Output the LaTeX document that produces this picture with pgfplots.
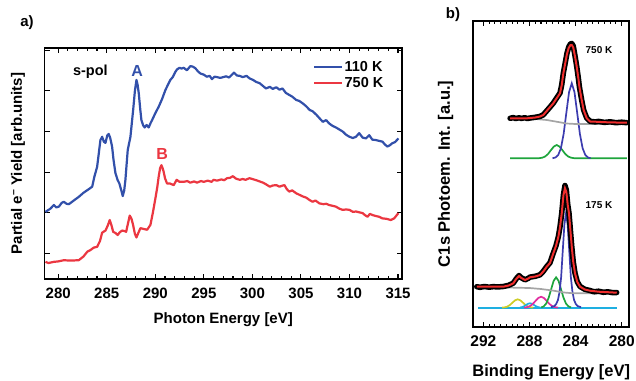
\documentclass[border=0pt]{standalone}
\usepackage{pgfplots}
\pgfplotsset{compat=1.18}
\usepackage{fontspec}
\setmainfont{Liberation Sans}
\setsansfont{Liberation Sans}
\definecolor{cblue}{RGB}{50,80,170}
\definecolor{cred}{RGB}{235,55,65}
\definecolor{bblue}{RGB}{60,60,175}
\definecolor{bgreen}{RGB}{30,165,60}
\definecolor{bcyan}{RGB}{30,175,225}
\definecolor{bmag}{RGB}{225,45,160}
\definecolor{byel}{RGB}{205,205,40}
\definecolor{bgray}{RGB}{165,165,165}
\definecolor{bred}{RGB}{240,45,45}
\newcommand{\fs}[1]{\fontsize{#1}{#1}\selectfont\bfseries}
\pgfplotsset{
  frame/.style={
    scale only axis,
    anchor=south west,
    axis line style={line width=1.7pt},
    tick style={line width=1.1pt,black},
    major tick length=5.5pt,
    minor tick length=3pt,
    tick align=inside,
    /pgf/number format/assume math mode=true,
    /pgf/number format/1000 sep={},
  }
}
\begin{document}
\begin{tikzpicture}
\path[use as bounding box] (0,0) rectangle (636pt,380pt);
\node[font=\fs{15}] at (27pt,357pt) {a)};
\node[font=\fs{15}] at (453pt,365pt) {b)};
% ---------------- panel a
\begin{axis}[frame,
  at={(44.5pt,101pt)}, width=357.5pt, height=231pt,
  xmin=278.59, xmax=315.41, ymin=0.367, ymax=6.057,
  xtick={280,285,...,315}, minor x tick num=4,
  ytick={1,2,3,4,5,6}, yticklabels={},
  xticklabel style={font=\fs{15}, yshift=-5pt},
  xlabel={Photon Energy [eV]},
  xlabel style={at={(axis description cs:0.5,-0.177)}, anchor=center, font=\fs{15}},
  ylabel={Partial e\textsuperscript{--} Yield [arb.units]},
  ylabel style={at={(axis description cs:-0.074,0.5)}, anchor=center, font=\fs{15}},
  legend style={at={(axis description cs:0.743,0.883)}, anchor=west, draw=none, fill=none,
    font=\fs{14.5}, row sep=2pt, nodes={inner sep=1pt}},
  legend cell align=left,
  legend image code/.code={\draw[#1,line width=2.3pt] (0pt,0pt) -- (28pt,0pt);},
]
\addplot[cblue, line width=2.2pt, line join=round] coordinates {
(278.69,2.02)(279.2,2.10)(279.55,2.19)(279.8,2.13)(280.07,2.15)(280.35,2.24)(280.58,2.27)(280.85,2.22)
(281.1,2.21)(281.6,2.30)(282.12,2.39)(282.6,2.49)(283.15,2.58)(283.5,2.64)(283.73,2.89)(284.01,3.13)
(284.35,3.79)(284.53,3.87)(284.7,3.75)(284.87,3.72)(285.05,3.90)(285.2,3.94)(285.35,3.85)(285.55,3.63)
(285.7,3.30)(285.9,2.97)(286.13,2.80)(286.3,2.72)(286.5,2.55)(286.65,2.41)(286.8,2.55)(286.92,2.80)
(287.16,3.54)(287.44,3.87)(287.72,4.53)(287.9,5.00)(288.06,5.27)(288.18,5.15)(288.3,4.94)(288.45,4.55)
(288.57,4.28)(288.75,4.15)(288.91,4.10)(289.1,4.16)(289.32,4.10)(289.5,4.20)(289.67,4.28)(290.0,4.45)
(290.35,4.61)(290.7,4.80)(291.04,5.02)(291.3,5.15)(291.55,5.27)(291.8,5.34)(292.07,5.47)(292.24,5.53)
(292.5,5.57)(292.7,5.55)(292.92,5.57)(293.26,5.51)(293.61,5.61)(293.85,5.60)(294.12,5.56)(294.4,5.48)
(294.64,5.43)(295.0,5.40)(295.3,5.35)(295.6,5.37)(295.84,5.29)(296.1,5.35)(296.36,5.34)(296.7,5.32)
(297.0,5.34)(297.3,5.36)(297.6,5.33)(297.9,5.40)(298.1,5.45)(298.4,5.38)(298.7,5.37)(299.0,5.34)
(299.4,5.37)(299.7,5.31)(300.07,5.27)(300.4,5.22)(300.75,5.19)(301.1,5.12)(301.4,5.06)(301.8,5.10)
(302.1,5.05)(302.46,5.09)(302.8,5.03)(303.1,5.06)(303.45,4.95)(303.8,4.90)(304.1,4.86)(304.5,4.78)
(304.85,4.75)(305.2,4.69)(305.55,4.62)(305.9,4.53)(306.2,4.50)(306.6,4.41)(306.9,4.33)(307.25,4.24)
(307.6,4.28)(307.9,4.20)(308.25,4.14)(308.6,4.10)(308.95,4.05)(309.3,4.00)(309.65,3.92)(310.0,3.87)
(310.35,3.84)(310.67,3.87)(311.0,3.96)(311.35,3.85)(311.7,3.83)(312.03,3.91)(312.35,3.80)(312.7,3.79)
(313.05,3.77)(313.4,3.75)(313.65,3.68)(313.9,3.63)(314.15,3.66)(314.4,3.71)(314.7,3.74)(315.04,3.83)
};
\addlegendentry{110 K}
\addplot[cred, line width=2.2pt, line join=round] coordinates {
(278.69,0.79)(279.0,0.76)(279.56,0.79)(280.0,0.80)(280.58,0.83)(281.26,0.82)(282.12,0.83)(282.6,0.92)
(283.0,1.04)(283.32,1.08)(283.66,1.14)(284.01,1.16)(284.3,1.30)(284.53,1.51)(284.87,1.56)(285.1,1.68)
(285.31,1.82)(285.5,1.68)(285.66,1.53)(285.9,1.50)(286.13,1.45)(286.35,1.52)(286.58,1.56)(286.8,1.55)
(287.0,1.53)(287.2,1.75)(287.37,1.93)(287.55,1.85)(287.71,1.70)(287.9,1.48)(288.06,1.39)(288.25,1.50)
(288.47,1.62)(288.8,1.60)(289.16,1.58)(289.5,1.70)(289.75,2.00)(290.01,2.35)(290.2,2.62)(290.35,2.89)
(290.5,3.10)(290.63,3.17)(290.75,3.10)(290.86,3.01)(291.0,2.85)(291.21,2.72)(291.5,2.72)(291.9,2.68)
(292.2,2.81)(292.5,2.76)(292.92,2.76)(293.3,2.78)(293.6,2.74)(294.0,2.77)(294.3,2.74)(294.7,2.78)
(295.0,2.76)(295.4,2.79)(295.8,2.76)(296.0,2.81)(296.36,2.79)(296.8,2.82)(297.1,2.80)(297.39,2.85)
(297.7,2.86)(298.0,2.90)(298.3,2.84)(298.7,2.81)(299.0,2.83)(299.3,2.81)(299.7,2.85)(300.0,2.83)
(300.4,2.80)(300.75,2.77)(301.1,2.74)(301.4,2.70)(301.8,2.64)(302.1,2.67)(302.46,2.68)(302.8,2.64)
(303.0,2.66)(303.3,2.68)(303.55,2.58)(303.8,2.52)(304.1,2.55)(304.5,2.48)(304.85,2.44)(305.2,2.40)
(305.55,2.37)(305.9,2.31)(306.2,2.27)(306.5,2.30)(306.9,2.23)(307.3,2.21)(307.6,2.22)(307.9,2.19)
(308.25,2.17)(308.6,2.15)(308.95,2.10)(309.3,2.07)(309.65,2.08)(310.0,2.07)(310.35,2.02)(310.67,2.03)
(311.0,2.01)(311.35,1.99)(311.6,1.94)(311.86,1.90)(312.1,1.97)(312.4,1.94)(312.7,1.92)(313.05,1.90)
(313.4,1.86)(313.8,1.85)(314.25,1.82)(314.6,1.86)(315.04,1.99)
};
\addlegendentry{750 K}
\node[font=\fs{14.5}] at (axis cs:283.32,5.46) {s-pol};
\node[font=\fs{16}, text=cblue] at (axis cs:288.13,5.50) {A};
\node[font=\fs{16}, text=cred] at (axis cs:290.70,3.45) {B};
\end{axis}
% ---------------- panel b
\begin{axis}[frame,
  at={(473.3pt,53pt)}, width=156pt, height=306.3pt,
  xmin=279.34, xmax=292.87, x dir=reverse, ymin=53, ymax=359.3,
  xtick={280,284,288,292}, minor x tick num=7, ytick=\empty,
  xticklabel style={font=\fs{15.5}, yshift=-5pt},
  xlabel={Binding Energy [eV]},
  xlabel style={at={(axis description cs:0.5,-0.147)}, anchor=center, font=\fs{16.5}},
  ylabel={C1s Photoem. Int. [a.u.]},
  ylabel style={at={(axis description cs:-0.177,0.5)}, anchor=center, font=\fs{16.5}},
]
% 750 K components
\addplot[bgreen, line width=1.7pt] coordinates {
(289.68,221.7)(287.5,221.7)(287.14,221.85)(286.89,222.3)(286.64,223.5)(286.39,226.0)(286.14,229.8)(285.89,233.4)
(285.64,235.0)(285.39,233.4)(285.14,229.8)(284.89,226.0)(284.64,223.5)(284.39,222.3)(284.14,221.85)(283.8,221.7)(279.56,221.7)
};
\addplot[bblue, line width=1.7pt] coordinates {
(286.0,221.8)(285.74,222.5)(285.505,225.0)(285.27,231.8)(285.035,246.1)(284.80,267.2)(284.565,287.9)(284.33,296.7)
(284.095,287.9)(283.86,267.2)(283.625,246.1)(283.39,231.8)(283.155,225.0)(282.92,222.5)(282.7,221.8)
};
\addplot[bgray, line width=1.7pt] coordinates {
(289.68,261.5)(287.5,261.0)(286.5,260.0)(285.5,258.0)(284.8,256.5)(284.0,256.0)(279.56,256.0)
};
\addplot[black, line width=5.5pt, line join=round, line cap=round] coordinates {
(289.68,261.7)(289.4,262.4)(289.2,261.5)(288.9,262.2)(288.7,261.6)(288.4,262.3)(288.2,261.5)(287.95,262.0)
(287.5,262.7)(287.08,263.6)(286.8,265.2)(286.36,271.0)(285.93,276.9)(285.64,282.0)(285.35,287.0)(285.2,295.2)
(285.06,307.0)(284.91,316.3)(284.75,326.5)(284.6,332.8)(284.45,336.0)(284.33,336.5)(284.2,334.0)(284.04,323.5)
(283.9,313.5)(283.75,301.0)(283.67,293.3)(283.47,280.0)(283.3,270.0)(283.03,261.9)(282.74,258.7)(282.3,258.1)
(282.0,258.6)(281.5,257.6)(281.0,258.2)(280.5,257.3)(280.0,257.8)(279.56,257.3)
};
\addplot[bred, line width=2pt] coordinates {
(289.68,261.7)(288.2,261.7)(287.5,262.5)(287.08,263.5)(286.8,265.0)(286.36,271.0)(285.93,276.7)(285.64,281.7)
(285.35,286.7)(285.2,295.0)(285.06,306.7)(284.91,316.0)(284.75,326.0)(284.6,332.0)(284.45,334.8)(284.33,335.0)
(284.2,332.5)(284.04,323.0)(283.9,313.3)(283.75,301.0)(283.67,293.3)(283.47,280.0)(283.3,270.0)(283.03,261.7)
(282.74,258.5)(282.3,258.3)(281.5,257.8)(280.5,257.5)(279.56,257.3)
};
% 175 K components
\addplot[bcyan, line width=2pt] coordinates {(292.43,72.3)(280.43,72.3)};
\addplot[byel, line width=1.7pt] coordinates {
(290.37,72.4)(290.145,72.7)(289.92,73.4)(289.695,75.0)(289.47,77.4)(289.245,79.7)(289.02,80.7)
(288.795,79.7)(288.57,77.4)(288.345,75.0)(288.12,73.4)(287.895,72.7)(287.67,72.4)
};
\addplot[bcyan, line width=1.7pt] coordinates {
(288.825,72.5)(288.65,72.9)(288.475,73.7)(288.3,75.0)(288.125,76.2)(287.95,76.7)
(287.775,76.2)(287.6,75.0)(287.425,73.7)(287.25,72.9)(287.075,72.5)
};
\addplot[bmag, line width=1.7pt] coordinates {
(288.46,72.4)(288.215,72.8)(287.97,73.8)(287.725,75.9)(287.48,79.0)(287.235,82.0)(286.99,83.3)
(286.745,82.0)(286.5,79.0)(286.255,75.9)(286.01,73.8)(285.765,72.8)(285.52,72.4)
};
\addplot[bgreen, line width=1.7pt] coordinates {
(286.98,72.6)(286.765,73.6)(286.55,76.4)(286.335,82.2)(286.12,90.7)(285.905,99.1)(285.69,102.7)
(285.475,99.1)(285.26,90.7)(285.045,82.2)(284.83,76.4)(284.615,73.6)(284.40,72.6)
};
\addplot[bblue, line width=1.7pt] coordinates {
(286.13,72.8)(285.83,74.0)(285.68,76.0)(285.53,80.0)(285.39,88.0)(285.25,103.0)(285.11,129.6)(284.97,155.4)
(284.83,166.7)(284.69,155.4)(284.55,129.6)(284.41,103.0)(284.27,88.0)(284.13,80.0)(283.98,76.0)(283.83,74.0)(283.53,72.8)
};
\addplot[bgray, line width=1.7pt] coordinates {
(292.57,92.7)(290.0,92.5)(288.0,92.0)(287.0,91.0)(286.0,89.5)(285.0,87.5)(284.3,86.8)(280.43,86.7)
};
\addplot[black, line width=5.5pt, line join=round, line cap=round] coordinates {
(292.57,93.3)(292.29,92.7)(291.9,93.5)(291.5,92.8)(291.1,93.4)(290.8,93.0)(290.27,93.5)(289.8,94.7)
(289.4,96.9)(289.15,101.2)(288.9,104.5)(288.7,102.2)(288.38,100.2)(288.1,101.7)(287.95,102.9)(287.5,103.7)
(287.08,105.2)(286.8,108.7)(286.5,113.5)(286.22,117.2)(285.93,127.0)(285.7,134.2)(285.49,143.5)(285.35,153.2)
(285.2,167.0)(285.05,185.5)(284.92,194.5)(284.8,190.0)(284.68,175.5)(284.57,167.0)(284.45,150.2)(284.33,133.5)
(284.2,118.2)(284.05,106.9)(283.85,98.2)(283.61,93.5)(283.2,90.7)(282.75,89.5)(282.4,88.2)(282.0,88.8)
(281.6,87.7)(281.2,88.2)(280.8,87.4)(280.43,87.5)
};
\addplot[bred, line width=2pt] coordinates {
(292.57,93.3)(290.27,93.3)(289.8,94.5)(289.4,96.7)(289.15,101.0)(288.9,104.0)(288.7,102.0)(288.38,100.0)
(288.1,101.5)(287.95,102.7)(287.5,103.5)(287.08,105.0)(286.8,108.5)(286.5,113.3)(286.22,117.0)(285.93,126.7)
(285.7,134.0)(285.49,143.3)(285.35,153.0)(285.2,166.7)(285.05,185.0)(284.92,191.7)(284.8,188.0)(284.68,175.0)
(284.57,166.7)(284.45,150.0)(284.33,133.3)(284.2,118.0)(284.05,106.7)(283.85,98.0)(283.61,93.3)(283.2,90.5)
(282.75,89.3)(282.0,88.3)(281.2,87.8)(280.43,87.3)
};
\node[font=\fs{10}] at (axis cs:281.97,330) {750 K};
\node[font=\fs{10}] at (axis cs:281.97,175) {175 K};
\end{axis}
\end{tikzpicture}
\end{document}
